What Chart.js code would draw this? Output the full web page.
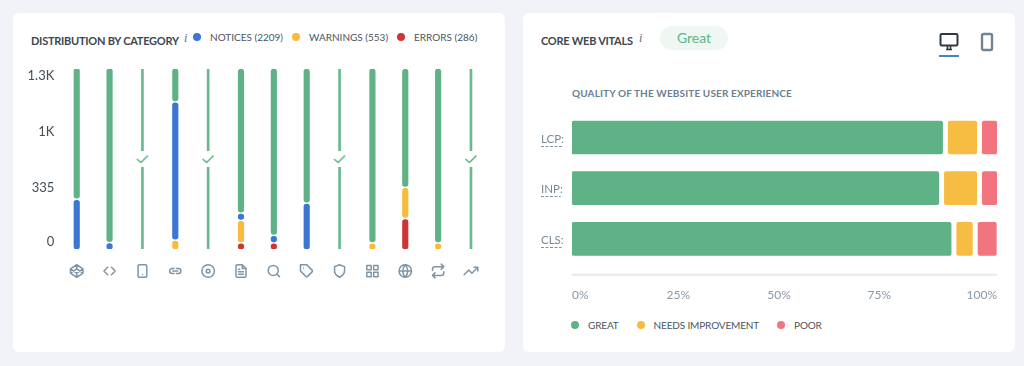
<!DOCTYPE html>
<html>
<head>
<meta charset="utf-8">
<title>Site audit</title>
<script src="https://cdn.jsdelivr.net/npm/chart.js@4"></script>
<style>
  html, body { margin: 0; padding: 0; background: #f1f3f8; overflow: hidden; }
  body { width: 1024px; height: 366px; position: relative; font-family: Lato, sans-serif; }
  .card { position: absolute; top: 13px; height: 339px; background: #fff; border-radius: 6px; }
  #cardLeft { left: 13px; width: 492px; }
  #cardRight { left: 523px; width: 492px; }
  canvas { position: absolute; }
  .txt { position: absolute; white-space: nowrap; line-height: 16px; }
  .title { font-size: 11px; font-weight: 700; color: #3d4751; letter-spacing: -0.25px; }
  .info { font-size: 12px; font-style: italic; color: #5d6a76; font-family: "Liberation Serif", serif; }
  .sub { font-size: 10px; font-weight: 700; color: #6b7f90; letter-spacing: 0.13px; }
  .pill { position: absolute; left: 660px; top: 26px; width: 68px; height: 24px; line-height: 24px; border-radius: 12px;
          background: #eef7f2; color: #60b488; font-size: 14px; text-align: center; }
  .legend { position: absolute; display: flex; align-items: center; white-space: nowrap; font-size: 10px; color: #4c555e; }
  .legend i { display: inline-block; width: 8px; height: 8px; border-radius: 50%; margin-right: 9px; }
  #legendLeft span { margin-right: 9px; }
  #legendRight { letter-spacing: -0.15px; }
  #legendRight span { margin-right: 18px; }
  #tabLine { position: absolute; left: 939px; top: 55px; width: 20px; height: 2px; background: #4a80d0; }
  svg { position: absolute; }
</style>
</head>
<body>
<div class="card" id="cardLeft"></div>
<div class="card" id="cardRight"></div>

<div class="txt title" style="left:31px;top:33px">DISTRIBUTION BY CATEGORY</div>
<div class="txt info" style="left:184px;top:30px">i</div>
<div class="legend" id="legendLeft" style="left:193px;top:29px;height:16px"></div>

<div class="txt title" style="left:541px;top:33px">CORE WEB VITALS</div>
<div class="txt info" style="left:639px;top:30px">i</div>
<div class="pill">Great</div>
<svg style="left:939px;top:32px" width="20" height="20" viewBox="0 0 20 20" fill="none">
  <rect x="1.5" y="2" width="17" height="11.5" rx="1.2" stroke="#2f3841" stroke-width="2"/>
  <path d="M7 17.5h6M8.5 14v3M11.5 14v3" stroke="#2f3841" stroke-width="1.6"/>
</svg>
<div id="tabLine"></div>
<svg style="left:980px;top:32px" width="14" height="20" viewBox="0 0 14 20" fill="none">
  <rect x="2" y="2" width="10" height="16" rx="1.5" stroke="#6f8596" stroke-width="2.4"/>
</svg>
<div class="txt sub" style="left:572px;top:85px">QUALITY OF THE WEBSITE USER EXPERIENCE</div>
<div class="legend" id="legendRight" style="left:571px;top:317px;height:16px"></div>

<canvas id="categoryChart" width="492" height="230" style="left:13px;top:60px"></canvas>
<canvas id="vitalsChart" width="492" height="200" style="left:523px;top:100px"></canvas>

<script>
// left chart - every column fills the full height, values are % of the column
const categories = ['codepen', 'code', 'tablet', 'link', 'disc', 'file', 'search', 'tag', 'shield', 'grid', 'globe', 'repeat', 'trending'];
const errors   = [null, null, null, null, null, 2.9, 2.9, null, null, null, 16.4, null, null];
const warnings = [null, null, null, 4.4, null, 11.4, null, null, null, 2.9, 16.2, 2.9, null];
const notices  = [27.1, 3, null, 75.7, null, 2.9, 3, 24.9, null, null, null, null, null];
const passed   = [72, 96, null, 17.7, null, 79.4, 91.9, 73.9, null, 96, 65, 96, null];
const noIssues = [null, null, 100, null, 100, null, null, null, 100, null, null, null, 100];
const yTickValues = [4, 34, 65, 96];
const yTickLabels = ['0', '335', '1K', '1.3K'];
const issueNames = ['NOTICES', 'WARNINGS', 'ERRORS'];
const issueCounts = [2209, 553, 286];

// right chart - % of page loads
const vitals = ['LCP:', 'INP:', 'CLS:'];
const great = [87.2, 86.3, 89.2];
const needsImprovement = [6.7, 7.6, 3.7];
const poor = [3.4, 3.4, 4.3];
const xTickValues = [0, 25, 48.7, 72.3, 100];
const xTickLabels = ['0%', '25%', '50%', '75%', '100%'];
const qualityNames = ['GREAT', 'NEEDS IMPROVEMENT', 'POOR'];

const GREEN = '#5fb285', BLUE = '#3b76d3', YELLOW = '#f8bb3c', RED = '#cf3535', PINK = '#f2747e';

Chart.defaults.font.family = 'Lato, sans-serif';
Chart.defaults.animation = false;

// stack the layers bottom to top as floating bars, leaving a small gap between them
function floatLayers(layers, gap) {
  const tops = layers[0].map(() => null);
  return layers.map(layer => layer.map((v, i) => {
    if (v === null) return null;
    const start = tops[i] === null ? 0 : tops[i] + gap;
    tops[i] = start + v;
    return [start, tops[i]];
  }));
}

function fillLegend(id, names, colors) {
  const box = document.getElementById(id);
  names.forEach((name, i) => {
    box.insertAdjacentHTML('beforeend', `<i style="background:${colors[i]}"></i><span>${name}</span>`);
  });
}
fillLegend('legendLeft', issueNames.map((n, i) => `${n} (${issueCounts[i]})`), [BLUE, YELLOW, RED]);
fillLegend('legendRight', qualityNames, [GREEN, YELLOW, PINK]);

const iconPaths = {
  codepen: 'M12 2l10 6.5v7L12 22 2 15.5v-7L12 2z M12 22v-6.5 M22 8.5l-10 7-10-7 M2 15.5l10-7 10 7 M12 2v6.5',
  code: 'M9 6l-6 6 6 6 M15 6l6 6-6 6',
  tablet: 'M7 2h10a2 2 0 0 1 2 2v16a2 2 0 0 1-2 2H7a2 2 0 0 1-2-2V4a2 2 0 0 1 2-2z M12 18h.01',
  link: 'M10 8H7a4 4 0 0 0 0 8h3 M14 8h3a4 4 0 0 1 0 8h-3 M8 12h8',
  disc: 'M22 12a10 10 0 1 1-20 0a10 10 0 1 1 20 0z M15 12a3 3 0 1 1-6 0a3 3 0 1 1 6 0z',
  file: 'M14 2H6a2 2 0 0 0-2 2v16a2 2 0 0 0 2 2h12a2 2 0 0 0 2-2V8z M14 2v6h6 M8 13h8 M8 17h8 M8 9h2',
  search: 'M19 11a8 8 0 1 1-16 0a8 8 0 1 1 16 0z M21 21l-4.3-4.3',
  tag: 'M20.6 13.4l-7.2 7.2a2 2 0 0 1-2.8 0L2 12V2h10l8.6 8.6a2 2 0 0 1 0 2.8z M7 7h.01',
  shield: 'M12 22s8-4 8-10V5l-8-3-8 3v7c0 6 8 10 8 10z',
  grid: 'M3 3h7v7H3z M14 3h7v7h-7z M14 14h7v7h-7z M3 14h7v7H3z',
  globe: 'M22 12a10 10 0 1 1-20 0a10 10 0 1 1 20 0z M2 12h20 M12 2a15 15 0 0 1 4 10 15 15 0 0 1-4 10 15 15 0 0 1-4-10 15 15 0 0 1 4-10z',
  repeat: 'M17 1l4 4-4 4 M3 11V9a4 4 0 0 1 4-4h14 M7 23l-4-4 4-4 M21 13v2a4 4 0 0 1-4 4H3',
  trending: 'M23 6l-9.5 9.5-5-5L1 18 M17 6h6v6'
};

// draws the category icons under the columns
const iconAxis = {
  id: 'iconAxis',
  afterDraw(chart) {
    const ctx = chart.ctx, size = 15, k = size / 24;
    const y = chart.chartArea.bottom + 22;
    ctx.save();
    ctx.strokeStyle = '#7f95a6';
    ctx.lineWidth = 1.5 / k;
    ctx.lineJoin = 'round';
    ctx.lineCap = 'round';
    categories.forEach((name, i) => {
      ctx.save();
      ctx.translate(chart.scales.x.getPixelForValue(i) - size / 2, y - size / 2);
      ctx.scale(k, k);
      ctx.stroke(new Path2D(iconPaths[name]));
      ctx.restore();
    });
    ctx.restore();
  }
};

// check mark on a white patch, sits on top of the thin columns
function checkMark() {
  const c = document.createElement('canvas');
  c.width = 16;
  c.height = 16;
  const g = c.getContext('2d');
  g.fillStyle = '#fff';
  g.fillRect(0, 0, 16, 16);
  g.strokeStyle = GREEN;
  g.lineWidth = 1.5;
  g.beginPath();
  g.moveTo(2.5, 8);
  g.lineTo(6.5, 11.5);
  g.lineTo(13.5, 4.5);
  g.stroke();
  return c;
}

const [errorBars, warningBars, noticeBars, passedBars] = floatLayers([errors, warnings, notices, passed], 1.1);

function thickBar(label, data, color) {
  return { label, data, backgroundColor: color, barThickness: 5.5, borderRadius: 3, borderSkipped: false, grouped: false, order: 1 };
}

new Chart(document.getElementById('categoryChart'), {
  data: {
    labels: categories,
    datasets: [
      thickBar('Errors', errorBars, RED),
      thickBar('Warnings', warningBars, YELLOW),
      thickBar('Notices', noticeBars, BLUE),
      thickBar('Passed', passedBars, GREEN),
      { label: 'No issues', data: noIssues.map(v => v === null ? null : [0, v]), backgroundColor: '#69b88f', barThickness: 2, grouped: false, order: 1 },
      {
        type: 'line', label: 'Check', data: noIssues.map(v => v === null ? null : v / 2), showLine: false,
        pointStyle: checkMark(), pointRadius: 8, order: 0
      }
    ].map(d => ({ type: 'bar', ...d }))
  },
  options: {
    responsive: false,
    layout: { padding: { top: 8, right: 17.6, bottom: 41 } },
    plugins: { legend: { display: false }, tooltip: { enabled: false } },
    scales: {
      x: { ticks: { display: false }, grid: { display: false, drawTicks: false }, border: { display: false } },
      y: {
        min: 0,
        max: 100,
        grid: { display: false, drawTicks: false },
        border: { display: false },
        afterBuildTicks: scale => { scale.ticks = yTickValues.map(value => ({ value })); },
        afterFit: scale => { scale.width = 47.3; scale.paddingTop = 0; scale.paddingBottom = 0; },
        ticks: { padding: 6, color: '#444e58', font: { size: 13 }, callback: (v, i) => yTickLabels[i] }
      }
    }
  },
  plugins: [iconAxis]
});

// axis line sits a little under the last bar, and the metric names get a dashed underline
const vitalsDecor = {
  id: 'vitalsDecor',
  afterDraw(chart) {
    const ctx = chart.ctx, area = chart.chartArea, yScale = chart.scales.y;
    ctx.save();
    ctx.strokeStyle = '#e8e9f0';
    ctx.lineWidth = 2;
    ctx.beginPath();
    ctx.moveTo(area.left, area.bottom + 10.5);
    ctx.lineTo(area.right, area.bottom + 10.5);
    ctx.stroke();
    ctx.strokeStyle = '#7f95a6';
    ctx.lineWidth = 1;
    ctx.setLineDash([3, 1.5]);
    ctx.font = '11.5px Lato, sans-serif';
    vitals.forEach((name, i) => {
      const y = Math.round(yScale.getPixelForValue(i) + 8) + 0.5;
      ctx.beginPath();
      ctx.moveTo(yScale.left, y);
      ctx.lineTo(yScale.left + ctx.measureText(name).width - 2, y);
      ctx.stroke();
    });
    ctx.restore();
  }
};

const [greatBars, needsBars, poorBars] = floatLayers([great, needsImprovement, poor], 1.32);

function vitalsBar(label, data, color) {
  return { label, data, backgroundColor: color, barThickness: 33, borderRadius: 2, borderSkipped: false, grouped: false };
}

new Chart(document.getElementById('vitalsChart'), {
  type: 'bar',
  data: {
    labels: vitals,
    datasets: [
      vitalsBar('Great', greatBars, GREEN),
      vitalsBar('Needs improvement', needsBars, '#f7bc42'),
      vitalsBar('Poor', poorBars, PINK)
    ]
  },
  options: {
    responsive: false,
    indexAxis: 'y',
    layout: { padding: { top: 12.2, right: 18, left: 18 } },
    plugins: { legend: { display: false }, tooltip: { enabled: false } },
    scales: {
      x: {
        min: 0,
        max: 100,
        grid: { display: false },
        border: { display: false },
        afterBuildTicks: scale => { scale.ticks = xTickValues.map(value => ({ value })); },
        afterFit: scale => { scale.height = 35.8; },
        ticks: { align: 'inner', maxRotation: 0, padding: 16, color: '#8a99a6', font: { size: 12 }, callback: (v, i) => xTickLabels[i] }
      },
      y: {
        grid: { display: false },
        border: { display: false },
        afterFit: scale => { scale.width = 31; },
        ticks: { crossAlign: 'far', padding: 0, labelOffset: 1.5, color: '#7b8a98', font: { size: 11.5 } }
      }
    }
  },
  plugins: [vitalsDecor]
});
</script>
</body>
</html>
